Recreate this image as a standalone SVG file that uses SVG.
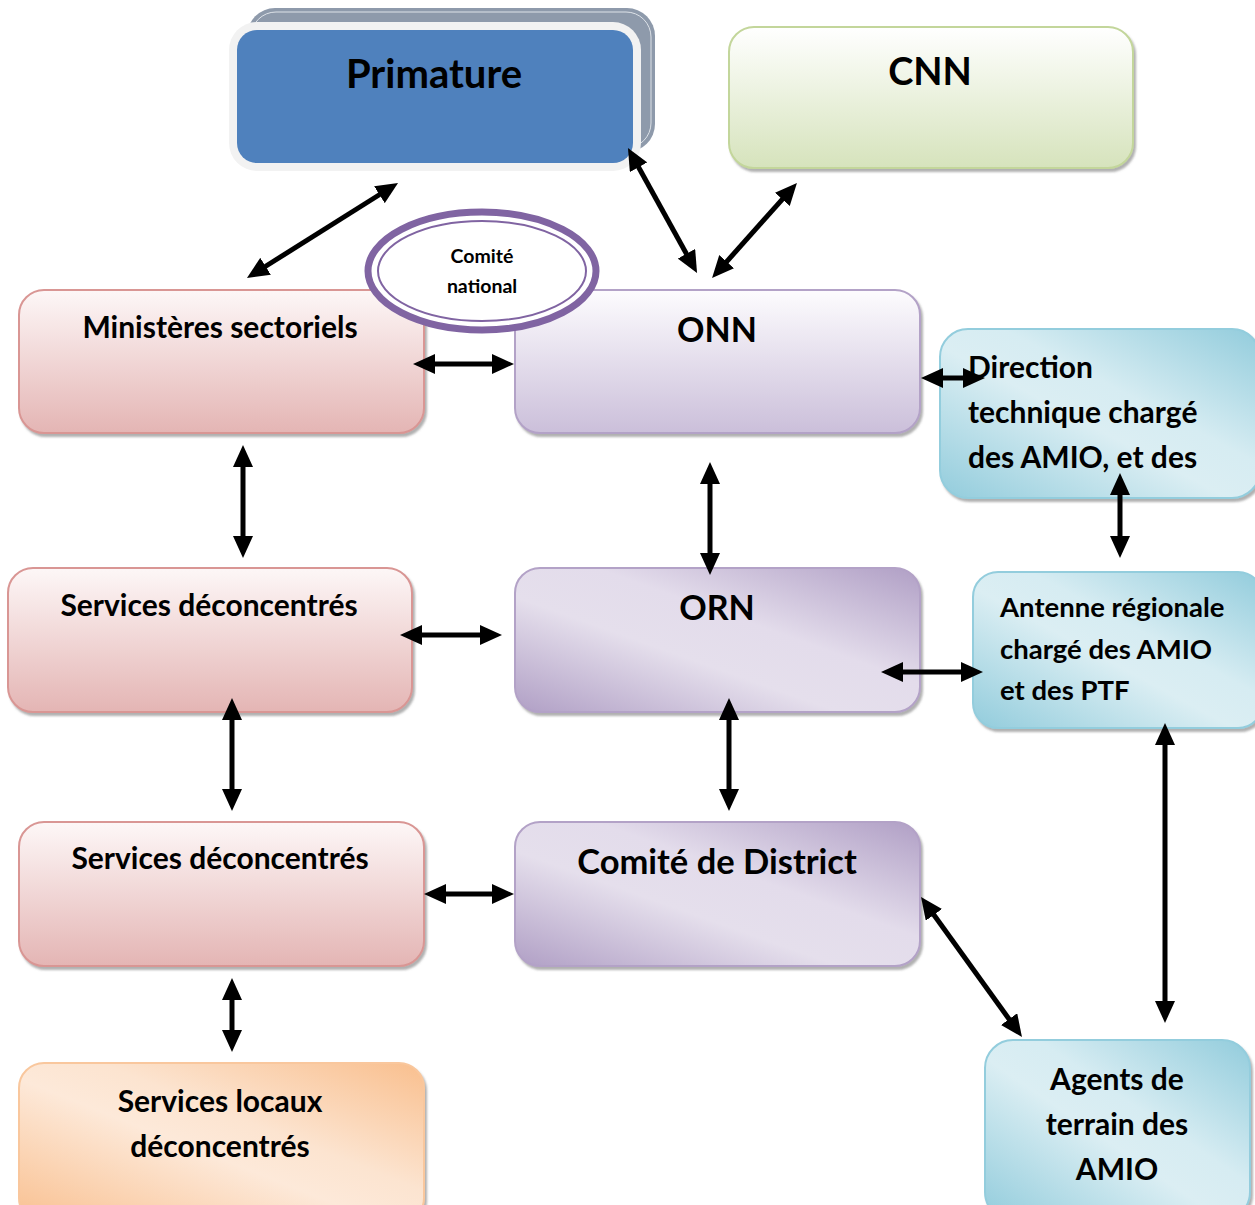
<svg xmlns="http://www.w3.org/2000/svg" width="1255" height="1205" viewBox="0 0 1255 1205">
  <defs>
    <style>
      .t { font-family: Lato, "Noto Sans", "DejaVu Sans", sans-serif; font-weight: bold; fill: #000; }
      .c { text-anchor: middle; }
      .box { stroke-width: 2; filter: url(#sh); }
      .pink { fill: url(#gPink); stroke: #D99694; }
      .lav { fill: url(#gLav); stroke: #B3A2C7; }
      .purp { fill: url(#gPurp); stroke: #B3A2C7; }
      .cyan { fill: url(#gCyan); stroke: #93CDDD; }
      .orng { fill: url(#gOrng); stroke: #F9C79D; }
      .lime { fill: url(#gLime); stroke: #C3D69B; }
      .arr { stroke: #000; stroke-width: 5; fill: none; marker-start: url(#ah); marker-end: url(#ah); }
    </style>
    <filter id="sh" x="-5%" y="-5%" width="112%" height="120%">
      <feDropShadow dx="2" dy="3" stdDeviation="1" flood-color="#6f6f6f" flood-opacity="0.55"/>
    </filter>
    <linearGradient id="gPink" x1="0" y1="0" x2="0" y2="1">
      <stop offset="0" stop-color="#FDF7F7"/>
      <stop offset="1" stop-color="#E4B5B4"/>
    </linearGradient>
    <linearGradient id="gLav" x1="0" y1="0" x2="0" y2="1">
      <stop offset="0" stop-color="#FDFCFE"/>
      <stop offset="1" stop-color="#CBBFDA"/>
    </linearGradient>
    <linearGradient id="gLime" x1="0" y1="0" x2="0" y2="1">
      <stop offset="0" stop-color="#FFFFFF"/>
      <stop offset="1" stop-color="#D6E3BC"/>
    </linearGradient>
    <linearGradient id="gPurp" x1="0" y1="1" x2="1" y2="0">
      <stop offset="0" stop-color="#B09FC5"/>
      <stop offset="0.4" stop-color="#E5DFEC"/>
      <stop offset="0.6" stop-color="#E3DCEB"/>
      <stop offset="1" stop-color="#B09FC5"/>
    </linearGradient>
    <linearGradient id="gCyan" x1="0" y1="1" x2="1" y2="0">
      <stop offset="0" stop-color="#92CCDC"/>
      <stop offset="0.45" stop-color="#DBEEF3"/>
      <stop offset="0.6" stop-color="#D6ECF2"/>
      <stop offset="1" stop-color="#92CCDC"/>
    </linearGradient>
    <linearGradient id="gOrng" x1="0" y1="1" x2="1" y2="0">
      <stop offset="0" stop-color="#F9C090"/>
      <stop offset="0.45" stop-color="#FDE9D9"/>
      <stop offset="0.6" stop-color="#FCE4D0"/>
      <stop offset="1" stop-color="#F9BF8E"/>
    </linearGradient>
    <marker id="ah" viewBox="0 0 22 20" markerUnits="userSpaceOnUse" markerWidth="22" markerHeight="20" refX="6" refY="10" orient="auto-start-reverse">
      <path d="M0,0 L22,10 L0,20 z" fill="#000"/>
    </marker>
  </defs>

  <g id="primature">
    <rect x="247" y="8" width="408" height="144" rx="28" fill="#8E9AAB"/>
    <rect x="251" y="12" width="400" height="136" rx="25" fill="none" stroke="#DDE2E8" stroke-width="1"/>
    <rect x="229" y="22" width="412" height="149" rx="28" fill="#F2F2F2"/>
    <rect x="237" y="30" width="396" height="133" rx="20" fill="#4F81BD"/>
    <text class="t c" x="434" y="88" font-size="40">Primature</text>
  </g>

  <g id="cnn">
    <rect class="box lime" x="729" y="27" width="404" height="141" rx="25"/>
    <text class="t c" x="930" y="85" font-size="38">CNN</text>
  </g>

  <g id="ministeres">
    <rect class="box pink" x="19" y="290" width="405" height="143" rx="25"/>
    <text class="t c" x="220" y="338" font-size="30">Ministères sectoriels</text>
  </g>

  <g id="onn">
    <rect class="box lav" x="515" y="290" width="405" height="143" rx="25"/>
    <text class="t c" x="717" y="342" font-size="34">ONN</text>
  </g>

  <g id="comite-national">
    <ellipse cx="482" cy="271" rx="114" ry="59" fill="#FFFFFF" stroke="#8064A2" stroke-width="7"/>
    <ellipse cx="482" cy="271" rx="104" ry="50" fill="none" stroke="#8064A2" stroke-width="2"/>
    <text class="t c" x="482" y="263" font-size="19.5">Comité</text>
    <text class="t c" x="482" y="293" font-size="19.5">national</text>
  </g>

  <g id="direction-technique">
    <rect class="box cyan" x="940" y="329" width="320" height="169" rx="28"/>
    <text class="t" x="968" y="378" font-size="30">Direction</text>
    <text class="t" x="968" y="423" font-size="30">technique chargé</text>
    <text class="t" x="968" y="468" font-size="30">des AMIO, et des</text>
  </g>

  <g id="services-deconcentres-1">
    <rect class="box pink" x="8" y="568" width="404" height="144" rx="25"/>
    <text class="t c" x="209" y="616" font-size="30">Services déconcentrés</text>
  </g>

  <g id="orn">
    <rect class="box purp" x="515" y="568" width="405" height="144" rx="25"/>
    <text class="t c" x="717" y="620" font-size="34">ORN</text>
  </g>

  <g id="antenne-regionale">
    <rect class="box cyan" x="973" y="572" width="290" height="156" rx="25"/>
    <text class="t" x="1000" y="617" font-size="27.5">Antenne régionale</text>
    <text class="t" x="1000" y="659" font-size="27.5">chargé des AMIO</text>
    <text class="t" x="1000" y="700" font-size="27.5">et des PTF</text>
  </g>

  <g id="services-deconcentres-2">
    <rect class="box pink" x="19" y="822" width="405" height="144" rx="25"/>
    <text class="t c" x="220" y="869" font-size="30">Services déconcentrés</text>
  </g>

  <g id="comite-district">
    <rect class="box purp" x="515" y="822" width="405" height="144" rx="25"/>
    <text class="t c" x="717" y="874" font-size="34.5">Comité de District</text>
  </g>

  <g id="agents-terrain">
    <rect class="box cyan" x="985" y="1040" width="265" height="180" rx="28"/>
    <text class="t c" x="1117" y="1090" font-size="30">Agents de</text>
    <text class="t c" x="1117" y="1135" font-size="30">terrain des</text>
    <text class="t c" x="1117" y="1180" font-size="30">AMIO</text>
  </g>

  <g id="services-locaux">
    <rect class="box orng" x="19" y="1063" width="405" height="160" rx="25"/>
    <text class="t c" x="220" y="1112" font-size="30">Services locaux</text>
    <text class="t c" x="220" y="1157" font-size="30">déconcentrés</text>
  </g>

  <!-- connectors, drawn over the boxes -->
  <g id="connectors">
    <line class="arr" x1="260.5" y1="269.5" x2="384.5" y2="191.5"/>
    <line class="arr" x1="635.7" y1="162" x2="689.3" y2="259"/>
    <line class="arr" x1="786.3" y1="194.9" x2="722.7" y2="266.1"/>
    <line class="arr" x1="429" y1="364" x2="498" y2="364"/>
    <line class="arr" x1="937" y1="378" x2="969" y2="378"/>
    <line class="arr" x1="243" y1="461" x2="243" y2="542"/>
    <line class="arr" x1="710" y1="478" x2="710" y2="559"/>
    <line class="arr" x1="1120" y1="489" x2="1120" y2="542"/>
    <line class="arr" x1="416" y1="635" x2="486" y2="635"/>
    <line class="arr" x1="897" y1="672" x2="967" y2="672"/>
    <line class="arr" x1="232" y1="714" x2="232" y2="795"/>
    <line class="arr" x1="729" y1="714" x2="729" y2="795"/>
    <line class="arr" x1="1165" y1="739" x2="1165" y2="1007"/>
    <line class="arr" x1="440" y1="894" x2="498" y2="894"/>
    <line class="arr" x1="930.4" y1="910" x2="1012.6" y2="1024"/>
    <line class="arr" x1="232" y1="994" x2="232" y2="1036"/>
  </g>
</svg>
